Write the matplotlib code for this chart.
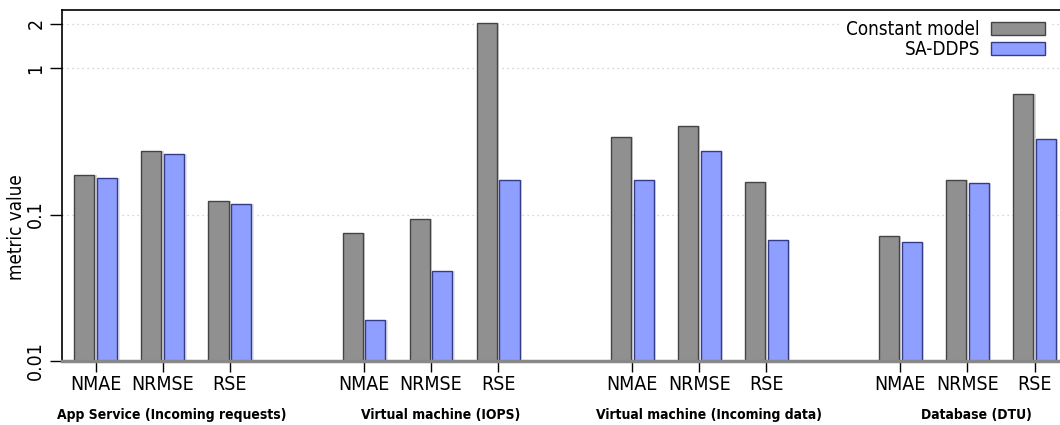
import numpy as np
import matplotlib
matplotlib.use("Agg")
import matplotlib.pyplot as plt

groups = ["App Service (Incoming requests)", "Virtual machine (IOPS)",
          "Virtual machine (Incoming data)", "Database (DTU)"]
metrics = ["NMAE", "NRMSE", "RSE"]

# one value per (group, metric), in group order
constant_model = [0.185, 0.270, 0.123,
                  0.0745, 0.0927, 2.03,
                  0.338, 0.402, 0.1675,
                  0.071, 0.173, 0.661]
sa_ddps = [0.177, 0.258, 0.1175,
           0.019, 0.041, 0.171,
           0.173, 0.272, 0.0667,
           0.0646, 0.163, 0.326]

plt.rcParams['font.family'] = ['DejaVu Sans']
plt.rcParams['font.stretch'] = 'condensed'

fig = plt.figure(figsize=(10.6, 4.25), dpi=100)
ax = fig.add_axes([0.0585, 0.1506, 0.9415, 0.8259])

# three metric slots per group, one empty slot between groups
x = np.array([g * 4 + m for g in range(len(groups)) for m in range(len(metrics))], dtype=float)
w = 0.30
off = 0.17

base = 0.01
ax.bar(x - off + 0.035, np.array(constant_model) - base, w, bottom=base,
       color="#d6d6d6", edgecolor="none", zorder=2)
ax.bar(x + off + 0.035, np.array(sa_ddps) - base, w, bottom=base,
       color="#e4e4ee", edgecolor="none", zorder=2)
ax.bar(x - off, np.array(constant_model) - base, w, bottom=base,
       color="#909090", edgecolor="#444444", linewidth=1.0, zorder=3,
       label="Constant model")
ax.bar(x + off, np.array(sa_ddps) - base, w, bottom=base,
       color="#8f9fff", edgecolor="#343c88", linewidth=1.0, zorder=3,
       label="SA-DDPS")

ax.set_yscale("log")
ax.set_ylim(0.01, 2.49)
ax.set_xlim(-0.503, 14.38)

ax.set_yticks([0.01, 0.1, 1, 2])
ax.set_yticklabels(["0.01", "0.1", "1", "2"], rotation=90, va="center", fontsize=14)
ax.yaxis.set_minor_locator(matplotlib.ticker.NullLocator())
ax.set_xticks(x)
ax.set_xticklabels(metrics * len(groups), fontsize=14)
ax.tick_params(axis="y", direction="out", length=9, width=1, pad=3)
ax.tick_params(axis="x", direction="out", length=8, width=1, pad=2)

for yv in [0.1, 1, 2]:
    ax.axhline(yv, color="#c8c8c8", linestyle=(0, (1, 3)), linewidth=0.9, zorder=1)
ax.axhline(0.01, color="#888888", linewidth=2.5, zorder=4, clip_on=False)

ax.spines["right"].set_visible(False)
ax.spines["bottom"].set_visible(False)
ax.spines["top"].set_linewidth(1.2)
ax.spines["left"].set_linewidth(1.2)

ax.set_ylabel("metric value", fontsize=13.5)
ax.yaxis.set_label_coords(-0.036, 0.382)

for g, name in enumerate(groups):
    ax.annotate(name, xy=(g * 4 + 1.14, 0), xycoords=("data", "axes fraction"),
                xytext=(0, -39), textcoords="offset points",
                ha="center", va="center", fontsize=10, fontweight="bold")

leg = ax.legend(loc="upper right", bbox_to_anchor=(0.996, 1.003), markerfirst=False,
                frameon=True, fontsize=13.5, handlelength=2.85, handleheight=0.65,
                handletextpad=0.6, labelspacing=0.05, borderaxespad=0.2)
leg.get_frame().set_edgecolor("none")
leg.get_frame().set_facecolor("white")
leg.get_frame().set_alpha(1)
leg.set_zorder(5)
for t in leg.get_texts():
    t.set_ha("right")

fig.savefig("out.png", dpi=100)
